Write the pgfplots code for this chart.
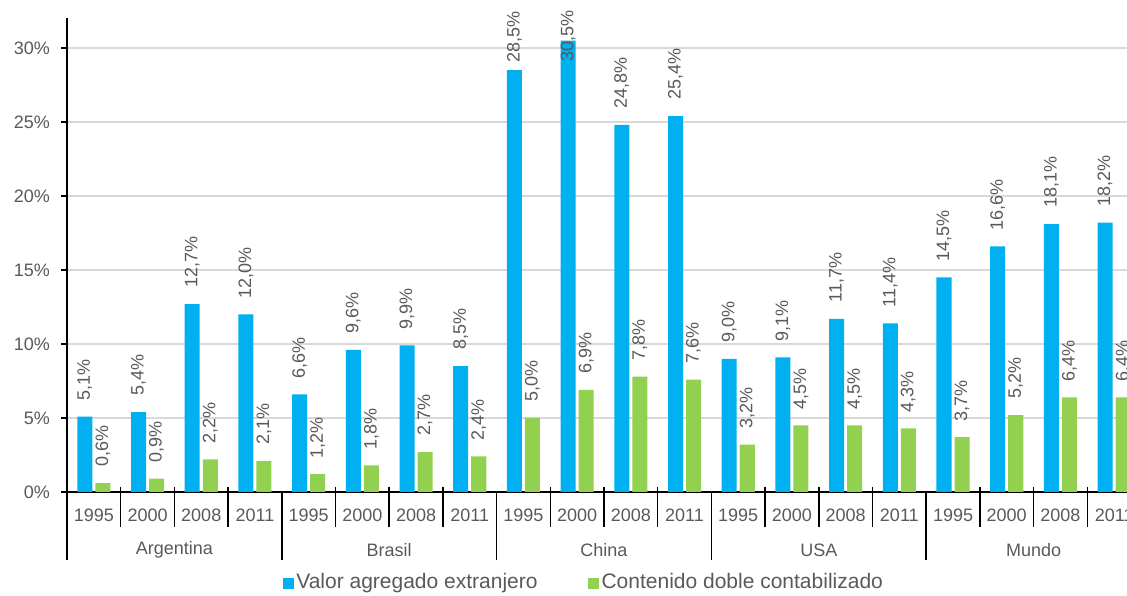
\documentclass[border=0pt]{standalone}
\usepackage{pgfplots}
\pgfplotsset{compat=1.18}
\usepackage{pgfplotstable}
\usepackage{fontspec}
\setmainfont{Liberation Sans}
\definecolor{cblue}{RGB}{0,176,240}
\definecolor{cgreen}{RGB}{146,208,80}
\definecolor{ctext}{RGB}{89,89,89}
\definecolor{cgrid}{RGB}{217,217,217}

\pgfplotstableread{
x y off
0 5.1 16
1 5.4 16
2 12.7 16
3 12.0 16
4 6.6 16
5 9.6 16
6 9.9 16
7 8.5 16
8 28.5 7
9 30.5 -21.5
10 24.8 16
11 25.4 16
12 9.0 16
13 9.1 16
14 11.7 16
15 11.4 16
16 14.5 16
17 16.6 16
18 18.1 16
19 18.2 16
}\bluedata

\pgfplotstableread{
x y off
0 0.6 16
1 0.9 16
2 2.2 16
3 2.1 16
4 1.2 16
5 1.8 16
6 2.7 16
7 2.4 16
8 5.0 16
9 6.9 16
10 7.8 16
11 7.6 16
12 3.2 16
13 4.5 16
14 4.5 16
15 4.3 16
16 3.7 16
17 5.2 16
18 6.4 16
19 6.4 16
}\greendata

\begin{document}
\begin{tikzpicture}
\begin{axis}[
  at={(0,0)}, anchor=south west,
  scale only axis, width=1074pt, height=473.6pt,
  xmin=-0.5, xmax=19.5, ymin=0, ymax=32,
  clip=false,
  axis lines=left,
  axis line style={-, black, line width=1.8pt},
  ybar, bar width=0.28,
  ytick={0,5,...,30},
  yticklabels={0\%,5\%,10\%,15\%,20\%,25\%,30\%},
  ymajorgrids, grid style={cgrid, line width=1.5pt},
  tick align=outside, major tick length=6pt,
  ytick style={black, line width=1.5pt},
  xtick={0,...,19},
  xticklabels={1995,2000,2008,2011,1995,2000,2008,2011,1995,2000,2008,2011,1995,2000,2008,2011,1995,2000,2008,2011},
  xtick style={draw=none},
  tick label style={font=\fontsize{18}{21}\selectfont, text=ctext},
  yticklabel style={anchor=east, inner sep=0pt, xshift=-11pt},
  xticklabel style={anchor=center, inner sep=0pt, yshift=-17pt},
  /pgf/number format/assume math mode=true,
  nodes near coords={\pgfmathprintnumber[fixed,fixed zerofill,precision=1,use comma]{\pgfplotspointmeta}\%},
  visualization depends on={\thisrow{off} \as \myoff},
  every node near coord/.append style={yshift=\myoff pt, rotate=90, anchor=west, inner sep=0pt, font=\fontsize{18}{21}\selectfont, text=ctext},
  legend style={at={(axis description cs:0.4815,-0.19)}, anchor=center, draw=none, fill=none,
    font=\fontsize{21}{24}\selectfont, text=ctext, nodes={inner sep=2.5pt},
    /tikz/every even column/.append style={column sep=48pt}},
  legend columns=2, legend cell align=left,
]
\addplot[fill=cblue, draw=none, bar shift=-0.168,
  legend image code/.code={\fill[cblue] (0pt,-7.5pt) rectangle (11pt,3.5pt);}]
  table[x=x, y=y] {\bluedata};
\addlegendentry{Valor agregado extranjero}
\addplot[fill=cgreen, draw=none, bar shift=0.168,
  legend image code/.code={\fill[cgreen] (0pt,-7.5pt) rectangle (11pt,3.5pt);}]
  table[x=x, y=y] {\greendata};
\addlegendentry{Contenido doble contabilizado}

\pgfplotsinvokeforeach{0.5,1.5,2.5,4.5,5.5,6.5,8.5,9.5,10.5,12.5,13.5,14.5,16.5,17.5,18.5}{
  \draw[black, line width=1.5pt] (axis cs:#1,0) ++(0pt,5pt) -- ++(0pt,-40pt);
}
\pgfplotsinvokeforeach{-0.5,3.5,7.5,11.5,15.5,19.5}{
  \draw[black, line width=1.5pt] (axis cs:#1,0) -- ++(0pt,-68pt);
}
\node[text=ctext, font=\fontsize{18}{21}\selectfont] at (axis cs:1.5,0) [yshift=-58pt] {Argentina};
\node[text=ctext, font=\fontsize{18}{21}\selectfont] at (axis cs:5.5,0) [yshift=-58pt] {Brasil};
\node[text=ctext, font=\fontsize{18}{21}\selectfont] at (axis cs:9.5,0) [yshift=-58pt] {China};
\node[text=ctext, font=\fontsize{18}{21}\selectfont] at (axis cs:13.5,0) [yshift=-58pt] {USA};
\node[text=ctext, font=\fontsize{18}{21}\selectfont] at (axis cs:17.5,0) [yshift=-58pt] {Mundo};
\end{axis}
\pgfresetboundingbox
\path[use as bounding box] (-67pt,-104pt) rectangle (1060pt,492pt);
\end{tikzpicture}
\end{document}
